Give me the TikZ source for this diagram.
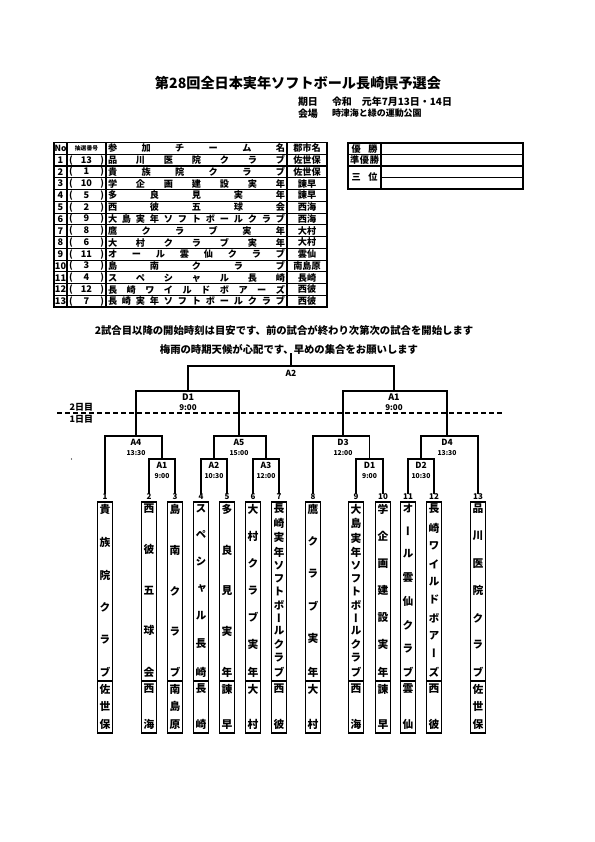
\documentclass[tikz,border=0pt]{standalone}
\usepackage{fontspec}
\setmainfont{Noto Sans CJK JP}
\newfontfamily\jpv{Noto Sans CJK JP}[RawFeature=+vert]
\makeatletter
\newcommand\vjust[2]{\vbox to #1{\offinterlineskip\edef\vj@tmp{#2}\expandafter\vj@loop\vj@tmp\relax\unskip}}
\def\vj@loop#1{\ifx#1\relax\else\hbox to 14bp{\hss#1\hss}\vfill\expandafter\vj@loop\fi}
\newcommand\hjust[2]{\hbox to #1{\edef\hj@tmp{#2}\expandafter\hj@loop\hj@tmp\relax\unskip}}
\def\hj@loop#1{\ifx#1\relax\else#1\hfill\expandafter\hj@loop\fi}
\makeatother
\newcommand\fs[1]{\fontsize{#1}{#1}\selectfont\bfseries}
\begin{document}
\begin{tikzpicture}[x=1bp,y=-1bp,
  every node/.style={inner sep=0pt,outer sep=0pt},
  br/.style={line width=1.3bp},
  tline/.style={line width=1.1bp},
  touter/.style={line width=1.8bp},
  tbox/.style={draw,line width=1.4bp,minimum width=15bp,minimum height=231bp,anchor=north},
  vname/.style={anchor=north,font=\jpv\fs{10.8}},
  numl/.style={font=\fs{8}},
  mlab/.style={font=\fs{8.5}},
  mtime/.style={font=\fs{6.8}},
  slab/.style={font=\fs{9}},
  stime/.style={font=\fs{8}},
  tcell/.style={font=\fs{9.2}}]
\useasboundingbox[fill=white] (0,0) rectangle (595,842);

% title block
\node[font=\fs{14.2}] (title) at (298,83.5) {第28回全日本実年ソフトボール長崎県予選会};
\node[anchor=west,font=\fs{10}] (kijitsu) at (298,101.5) {期日};
\node[anchor=west,font=\fs{10}] (date) at (332,101.5) {令和　元年7月13日・14日};
\node[anchor=west,font=\fs{10}] (kaijo) at (298,113.5) {会場};
\node[anchor=west,font=\fs{9}] (place) at (332,113.5) {時津海と緑の運動公園};

% left table
\draw[touter] (54,142.5) rectangle (327,307.1);
\foreach \k in {1,...,13} \draw[tline] (54,{142.5+11.76*\k}) -- (327,{142.5+11.76*\k});
\foreach \c in {67,106,287} \draw[tline] (\c,142.5) -- (\c,307.1);
\node[font=\fs{8.5}] (hno) at (60.5,148.4) {No};
\node[font=\fs{5.8}] (hds) at (86.5,148.4) {抽選番号};
\node[tcell,anchor=west] (hnm) at (108,148.4) {\hjust{177bp}{参加チーム名}};
\node[tcell] (hct) at (307,148.4) {郡市名};
\foreach \i/\d/\nm/\ct in {1/13/品川医院クラブ/佐世保,2/1/貴族院クラブ/佐世保,3/10/学企画建設実年/諫早,4/5/多良見実年/諫早,5/2/西彼五球会/西海,6/9/大島実年ソフトボールクラブ/西海,7/8/鷹クラブ実年/大村,8/6/大村クラブ実年/大村,9/11/オール雲仙クラブ/雲仙,10/3/島南クラブ/南島原,11/4/スペシャル長崎/長崎,12/12/長崎ワイルドボアーズ/西彼,13/7/長崎実年ソフトボールクラブ/西彼}{
  \node[tcell] (no\i) at (60.5,{142.5+11.76*(\i+0.5)}) {\i};
  \node[tcell] (ds\i) at (86.5,{142.5+11.76*(\i+0.5)}) {\hbox to 35bp{(\hfill\d\hfill)}};
  \node[tcell,anchor=west] (nm\i) at (108,{142.5+11.76*(\i+0.5)}) {\hjust{177bp}{\nm}};
  \node[tcell] (ct\i) at (307,{142.5+11.76*(\i+0.5)}) {\ct};
}

% right table
\draw[touter] (348,143.3) rectangle (523,188.6);
\draw[tline] (348,154.7) -- (523,154.7);
\draw[tline] (348,166) -- (523,166);
\draw[tline] (381,177.3) -- (523,177.3);
\draw[tline] (381,143.3) -- (381,188.6);
\node[tcell] (win) at (364.5,149) {\hjust{26bp}{優勝}};
\node[tcell] (second) at (364.5,160.4) {\hjust{29bp}{準優勝}};
\node[tcell] (third) at (364.5,177.3) {\hjust{26bp}{三位}};

% notes
\node[font=\fs{10.4}] (note1) at (284,331) {2試合目以降の開始時刻は目安です、前の試合が終わり次第次の試合を開始します};
\node[font=\fs{10.4}] (note2) at (289,349) {梅雨の時期天候が心配です、早めの集合をお願いします};

% day separator
\coordinate (dl) at (57,413);
\coordinate (dr) at (505,413);
\draw[line width=1.4bp,dash pattern=on 5bp off 3bp] (dl) -- (dr);
\node[anchor=east,font=\fs{9}] (day2) at (93,407) {2日目};
\node[anchor=east,font=\fs{9}] (day1) at (93,419) {1日目};
\fill (71.5,459) circle (0.6bp);

% team boxes
\foreach \i/\x/\nm/\ct in {1/105/貴族院クラブ/佐世保,2/149/西彼五球会/西海,3/175/島南クラブ/南島原,4/201/スペシャル長崎/長崎,5/227/多良見実年/諫早,6/253/大村クラブ実年/大村,7/279/長崎実年ソフトボールクラブ/西彼,8/313/鷹クラブ実年/大村,9/356/大島実年ソフトボールクラブ/西海,10/383/学企画建設実年/諫早,11/408/オール雲仙クラブ/雲仙,12/434/長崎ワイルドボアーズ/西彼,13/478/品川医院クラブ/佐世保}{
  \node[numl] (n\i) at (\x,497) {\i};
  \node[tbox] (t\i) at (\x,502) {};
  \draw[line width=1.4bp] (t\i.west |- 0,681) -- (t\i.east |- 0,681);
  \node[vname] (tn\i) at (\x,504) {\vjust{172bp}{\nm}};
  \node[vname] (tc\i) at (\x,684) {\vjust{44bp}{\ct}};
}

% bracket junctions
\coordinate (mA1f) at (162,459);
\coordinate (mA2f) at (214,459);
\coordinate (mA3f) at (266,459);
\coordinate (mD1f) at (369.5,459);
\coordinate (mD2f) at (421,459);
\coordinate (mA4) at (136,436);
\coordinate (mA5) at (239,436);
\coordinate (mD3) at (343,436);
\coordinate (mD4) at (447,436);
\coordinate (mD1s) at (188,391);
\coordinate (mA1s) at (394,391);
\coordinate (mA2) at (291,366);
\coordinate (stubtop) at (291,353);

% first round
\draw[br] (n2.north) |- (mA1f) -| (n3.north);
\draw[br] (n4.north) |- (mA2f) -| (n5.north);
\draw[br] (n6.north) |- (mA3f) -| (n7.north);
\draw[br] (n9.north) |- (mD1f) -| (n10.north);
\draw[br] (n11.north) |- (mD2f) -| (n12.north);
% second round
\draw[br] (n1.north) |- (mA4) -| (mA1f);
\draw[br] (mA2f) |- (mA5) -| (mA3f);
\draw[br] (n8.north) |- (mD3) -| (mD1f);
\draw[br] (mD2f) |- (mD4) -| (n13.north);
% semis
\draw[br] (mA4) |- (mD1s) -| (mA5);
\draw[br] (mD3) |- (mA1s) -| (mD4);
% final
\draw[br] (mD1s) |- (mA2) -| (mA1s);
\draw[br] (mA2) -- (stubtop);

% match labels
\node[mlab] (lA2) at (291,373) {A2};
\node[slab] (lD1s) at (188,397) {D1};
\node[stime] (tD1s) at (188,408) {9:00};
\node[slab] (lA1s) at (394,397) {A1};
\node[stime] (tA1s) at (394,408) {9:00};
\node[mlab] (lA4) at (136,442) {A4};
\node[mtime] (tA4) at (136,453) {13:30};
\node[mlab] (lA5) at (239,442) {A5};
\node[mtime] (tA5) at (239,453) {15:00};
\node[mlab] (lD3) at (343,442) {D3};
\node[mtime] (tD3) at (343,453) {12:00};
\node[mlab] (lD4) at (447,442) {D4};
\node[mtime] (tD4) at (447,453) {13:30};
\node[mlab] (lA1f) at (162,465) {A1};
\node[mtime] (tA1f) at (162,476) {9:00};
\node[mlab] (lA2f) at (214,465) {A2};
\node[mtime] (tA2f) at (214,476) {10:30};
\node[mlab] (lA3f) at (266,465) {A3};
\node[mtime] (tA3f) at (266,476) {12:00};
\node[mlab] (lD1f) at (369.5,465) {D1};
\node[mtime] (tD1f) at (369.5,476) {9:00};
\node[mlab] (lD2f) at (421,465) {D2};
\node[mtime] (tD2f) at (421,476) {10:30};
\end{tikzpicture}
\end{document}
